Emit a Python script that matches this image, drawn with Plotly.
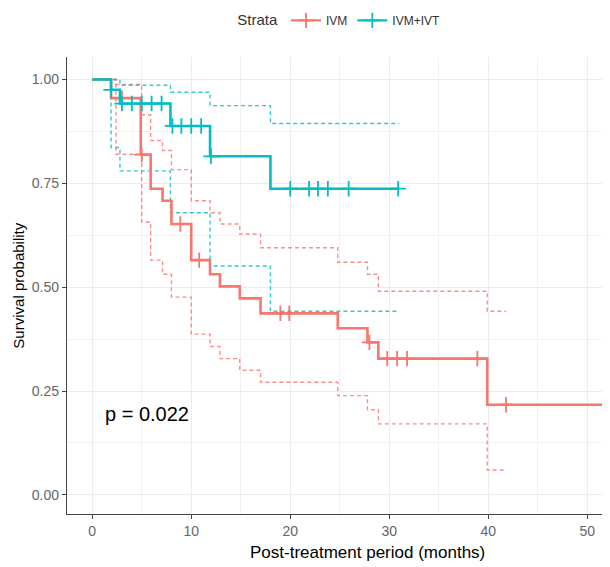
import plotly.graph_objects as go

# ---------------- data ----------------
# IVM group (red)
ivm_time = [0, 1.9, 4.9, 5.9, 7.1, 8.0, 10.0, 11.9, 12.9, 14.9, 17.0, 24.8, 27.8, 28.9, 39.9, 55]
ivm_surv = [1.0, 0.955, 0.819, 0.737, 0.708, 0.652, 0.565, 0.531, 0.502, 0.473, 0.437, 0.401, 0.367, 0.328, 0.217, 0.217]
ivm_ci_time = [0, 2.4, 5.0, 5.9, 7.1, 8.0, 10.0, 11.9, 12.9, 14.9, 17.0, 24.8, 27.8, 28.9, 39.9, 41.8]
ivm_upper = [1.0, 0.988, 0.915, 0.853, 0.829, 0.783, 0.708, 0.679, 0.652, 0.628, 0.595, 0.560, 0.531, 0.490, 0.442, 0.442]
ivm_lower = [1.0, 0.820, 0.657, 0.565, 0.531, 0.476, 0.387, 0.357, 0.328, 0.300, 0.271, 0.239, 0.205, 0.171, 0.060, 0.060]
ivm_censor = [3.0, 5.0, 8.9, 10.8, 19.0, 19.9, 28.0, 29.8, 30.8, 31.8, 38.9, 41.8]

# IVM+IVT group (teal)
ivt_time = [0, 1.9, 2.8, 7.9, 11.9, 18.0, 31.0]
ivt_surv = [1.0, 0.975, 0.942, 0.888, 0.815, 0.737, 0.737]
ivt_upper = [1.0, 1.0, 0.986, 0.969, 0.937, 0.894, 0.894]
ivt_lower = [1.0, 0.836, 0.780, 0.679, 0.551, 0.442, 0.442]
ivt_censor = [1.9, 3.0, 4.0, 5.0, 6.0, 7.0, 8.1, 9.0, 10.0, 11.0, 12.0, 20.0, 21.9, 22.8, 23.8, 25.9, 30.9]

strata_names = ["IVM", "IVM+IVT"]
colors = ["#F8766D", "#00BFC4"]

x_ticks = [0, 10, 20, 30, 40, 50]
y_ticks = [0, 0.25, 0.5, 0.75, 1.0]
y_ticklabels = ["0.00", "0.25", "0.50", "0.75", "1.00"]
p_text = "p = 0.022"

FONT = "Liberation Sans, Arial, sans-serif"


def step_lookup(times, surv, t):
    val = surv[0]
    for ti, si in zip(times, surv):
        if ti <= t:
            val = si
        else:
            break
    return val


fig = go.Figure()

groups = [
    (ivm_time, ivm_surv, ivm_ci_time, ivm_upper, ivm_lower, ivm_censor),
    (ivt_time, ivt_surv, ivt_time, ivt_upper, ivt_lower, ivt_censor),
]

for (t, s, ct, up, lo, cens), name, col in zip(groups, strata_names, colors):
    for band in (up, lo):
        fig.add_trace(go.Scatter(
            x=ct, y=band, mode="lines", line=dict(color=col, width=1.4, dash="4px,3px", shape="hv"),
            opacity=0.8, showlegend=False, hoverinfo="skip"))

for (t, s, ct, up, lo, cens), name, col in zip(groups, strata_names, colors):
    fig.add_trace(go.Scatter(
        x=t, y=s, mode="lines", line=dict(color=col, width=2.6, shape="hv"),
        showlegend=False, name=name))
    cy = [step_lookup(t, s, c) for c in cens]
    fig.add_trace(go.Scatter(
        x=cens, y=cy, mode="markers",
        marker=dict(symbol="cross-thin", size=11, line=dict(color=col, width=1.8)),
        showlegend=False, name=name))

# legend entries
for name, col in zip(strata_names, colors):
    fig.add_trace(go.Scatter(
        x=[None], y=[None], mode="lines+markers", name=name,
        line=dict(color=col, width=2.4),
        marker=dict(symbol="cross-thin", size=11, line=dict(color=col, width=1.8)),
        showlegend=True))

fig.add_annotation(x=1.1, y=0.195, xref="x", yref="y", text=p_text, showarrow=False,
                   xanchor="left", yanchor="middle", font=dict(family=FONT, size=20, color="black"))

fig.add_annotation(x=0.5525, y=-0.085, xref="paper", yref="paper", text="Post-treatment period (months)",
                   showarrow=False, xanchor="center", yanchor="middle",
                   font=dict(family=FONT, size=17, color="black"))
fig.add_annotation(x=-0.09, y=0.5, xref="paper", yref="paper", text="Survival probability",
                   showarrow=False, textangle=-90, xanchor="center", yanchor="middle",
                   font=dict(family=FONT, size=15, color="black"))

axis_common = dict(
    showline=True, linecolor="#444", linewidth=1.3, ticks="outside", ticklen=4, tickcolor="#444",
    tickwidth=1.2, tickfont=dict(family=FONT, size=14, color="#666"), showgrid=True,
    gridcolor="#ececec", gridwidth=1.1, zeroline=False, mirror=False, automargin=False,
)

fig.update_xaxes(range=[-2.55, 52.3], tickvals=x_ticks,
                 minor=dict(dtick=5, tick0=0, showgrid=True, gridcolor="#f1f1f1", gridwidth=0.8, ticks=""),
                 **axis_common)
fig.update_yaxes(range=[-0.046, 1.054], tickvals=y_ticks, ticktext=y_ticklabels,
                 minor=dict(dtick=0.125, tick0=0, showgrid=True, gridcolor="#f1f1f1", gridwidth=0.8, ticks=""),
                 **axis_common)

# the page adds an 8px body margin, so the figure is 8px smaller and shifted
fig.update_layout(
    width=602, height=559,
    margin=dict(l=59, r=0, t=49, b=53, autoexpand=False),
    plot_bgcolor="white", paper_bgcolor="white",
    font=dict(family=FONT),
    legend=dict(orientation="h", x=0.31, y=1.079, xanchor="left", yanchor="middle",
                title=dict(text="Strata", font=dict(family=FONT, size=15, color="#333")),
                font=dict(family=FONT, size=12, color="#333"), itemwidth=30,
                bgcolor="rgba(0,0,0,0)"),
)

fig.write_html("out.html")
